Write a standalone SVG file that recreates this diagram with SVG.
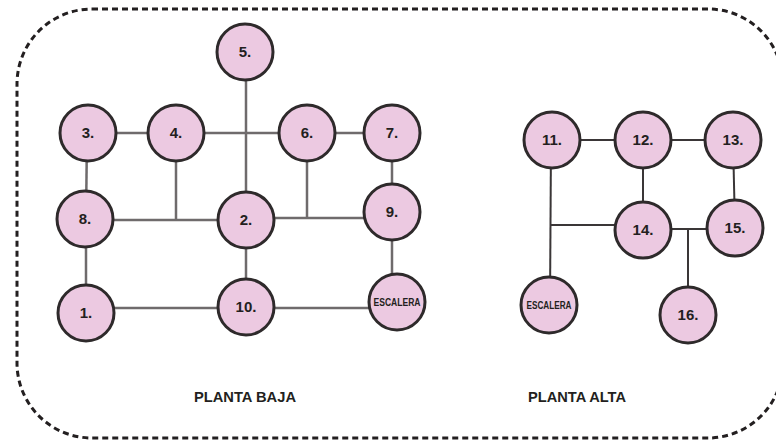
<svg xmlns="http://www.w3.org/2000/svg" width="776" height="444" viewBox="0 0 776 444">
<style>
.n circle{fill:#ecc9e1;stroke:#2e2a2b;stroke-width:3}
.n text{font-family:"Liberation Sans Narrow","Liberation Sans",Arial,sans-serif;font-weight:bold;font-size:15px;fill:#231f20;text-anchor:middle}
.n text.s{font-size:10px}
.c1 line{stroke:#6f6b6c;stroke-width:2.5}
.c2 line{stroke:#3a3637;stroke-width:2}
.lbl{font-family:"Liberation Sans Narrow","Liberation Sans",Arial,sans-serif;font-weight:bold;font-size:15px;fill:#231f20;text-anchor:middle}
</style>
<rect x="17" y="9" width="766" height="429" rx="75" ry="75" fill="none" stroke="#231f20" stroke-width="3" stroke-dasharray="6 4"/>
<g id="connectors">
<g class="c1">
<line x1="88" y1="133" x2="176" y2="133"/>
<line x1="176" y1="133" x2="307" y2="133"/>
<line x1="307" y1="133" x2="392" y2="133"/>
<line x1="246" y1="52" x2="246" y2="220"/>
<line x1="176" y1="133" x2="176" y2="220"/>
<line x1="307" y1="133" x2="307" y2="218"/>
<line x1="87" y1="133" x2="86" y2="220"/>
<line x1="392" y1="133" x2="392" y2="213"/>
<line x1="86" y1="220" x2="246" y2="220"/>
<line x1="246" y1="218" x2="392" y2="218"/>
<line x1="86" y1="220" x2="86" y2="313"/>
<line x1="246" y1="220" x2="246" y2="307"/>
<line x1="392" y1="213" x2="392" y2="302"/>
<line x1="86" y1="308" x2="246" y2="308"/>
<line x1="246" y1="308" x2="397" y2="308"/>
</g>
<g class="c2">
<line x1="552" y1="140" x2="733" y2="140"/>
<line x1="643" y1="140" x2="643" y2="230"/>
<line x1="733" y1="140" x2="735" y2="228"/>
<line x1="551" y1="140" x2="550" y2="305"/>
<line x1="551" y1="225" x2="643" y2="225"/>
<line x1="643" y1="229" x2="735" y2="229"/>
<line x1="688" y1="229" x2="688" y2="315"/>
</g>
</g>
<g id="n5" class="n"><circle cx="245" cy="52" r="28"/><text x="245" y="57">5.</text></g>
<g id="n3" class="n"><circle cx="88" cy="133" r="28"/><text x="88" y="138">3.</text></g>
<g id="n4" class="n"><circle cx="176" cy="133" r="28"/><text x="176" y="138">4.</text></g>
<g id="n6" class="n"><circle cx="307" cy="133" r="28"/><text x="307" y="138">6.</text></g>
<g id="n7" class="n"><circle cx="392" cy="133" r="28"/><text x="392" y="138">7.</text></g>
<g id="n8" class="n"><circle cx="85" cy="219" r="28"/><text x="85" y="224">8.</text></g>
<g id="n2" class="n"><circle cx="246" cy="220" r="28"/><text x="246" y="225">2.</text></g>
<g id="n9" class="n"><circle cx="392" cy="212" r="28"/><text x="392" y="217">9.</text></g>
<g id="n1" class="n"><circle cx="86" cy="313" r="28"/><text x="86" y="318">1.</text></g>
<g id="n10" class="n"><circle cx="246" cy="307" r="28"/><text x="246" y="312">10.</text></g>
<g id="esc1" class="n"><circle cx="397" cy="302" r="28"/><text class="s" x="397" y="305.5" textLength="47" lengthAdjust="spacingAndGlyphs">ESCALERA</text></g>
<g id="n11" class="n"><circle cx="552" cy="140" r="28"/><text x="552" y="145">11.</text></g>
<g id="n12" class="n"><circle cx="643" cy="140" r="28"/><text x="643" y="145">12.</text></g>
<g id="n13" class="n"><circle cx="733" cy="140" r="28"/><text x="733" y="145">13.</text></g>
<g id="n14" class="n"><circle cx="643" cy="230" r="28"/><text x="643" y="235">14.</text></g>
<g id="n15" class="n"><circle cx="735" cy="228" r="28"/><text x="735" y="233">15.</text></g>
<g id="esc2" class="n"><circle cx="549" cy="305" r="28"/><text class="s" x="549" y="308.5" textLength="45" lengthAdjust="spacingAndGlyphs">ESCALERA</text></g>
<g id="n16" class="n"><circle cx="688" cy="315" r="28"/><text x="688" y="320">16.</text></g>
<text class="lbl" x="245" y="402" textLength="102" lengthAdjust="spacingAndGlyphs">PLANTA BAJA</text>
<text class="lbl" x="577" y="402" textLength="98" lengthAdjust="spacingAndGlyphs">PLANTA ALTA</text>
</svg>
